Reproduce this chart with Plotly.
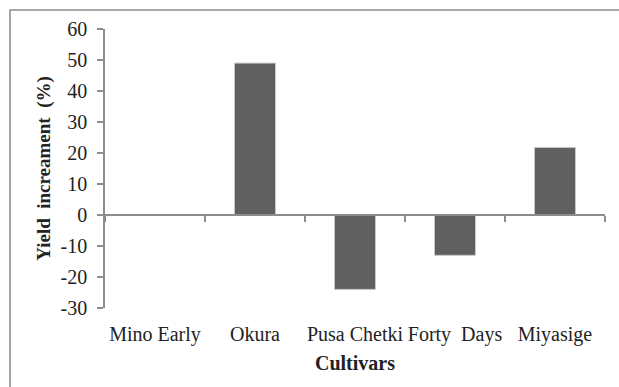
import plotly.graph_objects as go

categories = ["Mino Early", "Okura", "Pusa Chetki", "Forty  Days", "Miyasige"]
yield_increase = [0, 49, -24, -13, 21.8]
y_ticks = [-30, -20, -10, 0, 10, 20, 30, 40, 50, 60]
y_tick_labels = ["-30", "-20", "-10", "0", "10", "20", "30", "40", "50", "60"]

idx = list(range(len(categories)))
y_min, y_max = -30, 60
zero_pos = (0 - y_min) / (y_max - y_min)

font_fam = "Liberation Serif, Times New Roman, serif"
txt = "#222222"

fig = go.Figure()
fig.add_trace(go.Bar(
    x=idx, y=yield_increase, width=0.41,
    marker=dict(color="#606060", line=dict(color="#c8c8c8", width=1)),
    xaxis="x", yaxis="y", showlegend=False,
))
# invisible trace to drive the label axis
fig.add_trace(go.Scatter(x=idx, y=[None]*len(idx), xaxis="x2", yaxis="y",
                         mode="markers", showlegend=False, hoverinfo="skip"))

fig.update_layout(
    width=619, height=387,
    margin=dict(l=105, r=14, t=29, b=79),
    paper_bgcolor="white", plot_bgcolor="white",
    font=dict(family=font_fam, color=txt, size=18),
    xaxis=dict(
        range=[-0.5, len(idx) - 0.5],
        anchor="free", position=zero_pos, automargin=False,
        showline=True, linecolor="#8c8c8c", linewidth=1.5,
        tickmode="array", tickvals=[i - 0.5 for i in range(len(idx) + 1)],
        ticks="outside", ticklen=6, tickcolor="#8c8c8c", tickwidth=1.5,
        showticklabels=False, showgrid=False, zeroline=False,
    ),
    xaxis2=dict(
        overlaying="x", anchor="y", side="bottom", automargin=False,
        range=[-0.5, len(idx) - 0.5],
        tickmode="array", tickvals=idx, ticktext=categories,
        ticks="", showline=False, showgrid=False, zeroline=False,
        tickfont=dict(size=20, family=font_fam, color=txt),
        ticklabelstandoff=12,
        title=dict(text="<b>Cultivars</b>", font=dict(size=20, family=font_fam, color=txt), standoff=10),
    ),
    yaxis=dict(
        range=[y_min, y_max], automargin=False,
        tickmode="array", tickvals=y_ticks, ticktext=y_tick_labels,
        showline=True, linecolor="#8c8c8c", linewidth=1.5,
        ticks="outside", ticklen=6, tickcolor="#8c8c8c", tickwidth=1.5,
        showgrid=False, zeroline=False,
        tickfont=dict(size=20, family=font_fam, color=txt),
        ticklabelstandoff=6,
        title=dict(text="<b>Yield  increament  (%)</b>", font=dict(size=19, family=font_fam, color=txt), standoff=5),
    ),
    shapes=[dict(type="rect", xref="paper", yref="paper",
                 x0=-0.19, x1=1.05, y0=-0.4, y1=1.068,
                 line=dict(color="#8c8c8c", width=1.5), layer="below")],
)

fig.write_html("out.html", config={"displayModeBar": False},
               post_script="document.body.style.margin='0';document.body.style.overflow='hidden';")
